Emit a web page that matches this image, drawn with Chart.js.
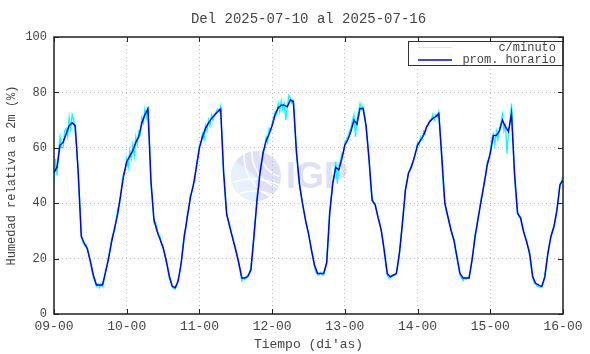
<!DOCTYPE html>
<html>
<head>
<meta charset="utf-8">
<script src="https://cdn.jsdelivr.net/npm/chart.js@4/dist/chart.umd.min.js"></script>
<style>
  html, body { margin: 0; padding: 0; background: #fff; }
  canvas { display: block; }
</style>
</head>
<body>
<canvas id="graf" width="590" height="354"></canvas>
<script>
// etiquetas del eje x (un dia cada 24 h)
var dias = ['09-00', '10-00', '11-00', '12-00', '13-00', '14-00', '15-00', '16-00'];
var horasDia = 24;
var titulo = 'Del 2025-07-10 al 2025-07-16';
var nombres = ['c/minuto', 'prom. horario'];

// promedio horario (una muestra por hora, desde 09-00)
var horario = [
  51, 53, 61, 62, 65, 68, 69, 68, 51, 28, 25.5, 23.5, 19, 14, 10.5, 10.5, 10.5, 15, 20, 26, 31, 36, 43, 50,
  55, 57, 59, 62, 64, 69, 72, 74, 48, 34, 30, 27, 24, 19.5, 14, 10, 9.5, 12, 18.5, 28, 35, 42, 46.5, 53,
  60, 64, 67, 69, 70.6, 71.8, 73, 74, 51, 36, 31.5, 27.3, 23, 18.4, 13, 13, 13.6, 16, 28, 41, 51, 58, 62.5, 65,
  68, 72, 74.5, 75.4, 75.4, 74.8, 77.3, 76.7, 59, 47, 40, 34, 29, 23, 17.6, 14.6, 14.6, 14.6, 18.4, 36.4, 47, 53, 52, 56,
  61, 63, 66, 70, 68.5, 74.2, 74.2, 68, 55.6, 41, 39.4, 34.6, 30.3, 23, 14.6, 13.4, 14, 14.6, 21.8, 32.7, 44.8, 50.8, 53.2, 56.8,
  61, 62.8, 64.6, 67.6, 69.4, 70.6, 71.2, 72.4, 56.8, 40, 35.2, 30.3, 26.7, 20.6, 14.6, 13, 13, 13, 19.6, 28, 34.6, 41, 47.2, 53.8,
  58, 64.4, 64.4, 66, 70, 67.6, 65.8, 72.4, 50.8, 36.4, 34.6, 29.7, 26.1, 21.8, 13.4, 11, 10.4, 9.9, 13.4, 21.8, 27.9, 31.5, 37.5, 46.6,
  48.4
];

// datos c/minuto (leidos cada media hora)
var pasoMinuto = 0.5;
var minuto = [
  47, 56, 50, 59, 64, 60, 60, 66, 67, 64, 71, 67, 72, 70, 66, 60, 50, 40, 29, 26, 25, 25, 24, 21,
  19, 16, 13, 12, 10, 11, 9.5, 11, 10, 12, 16, 17, 21, 23, 27, 29, 30, 34, 38, 39, 42, 48, 51, 52,
  56, 53, 59, 56, 61, 57, 64, 61, 66, 65, 71, 69, 74, 71, 75, 62, 47, 40, 33, 33, 31, 28, 28, 25,
  24, 22, 19, 17, 13, 12, 10, 9, 9, 10, 13, 15, 19, 24, 29, 31, 36, 38, 43, 44, 47, 48, 54, 57,
  61, 62, 65, 63, 68, 66, 70, 68, 72, 70, 72, 73, 74, 73, 75, 62, 50, 42, 36, 34, 32, 29, 27, 25,
  23, 21, 18, 15, 12, 13, 12.5, 13, 14, 14.5, 17, 22, 29, 35, 42, 46, 52, 55, 59, 60, 64, 62, 67, 66,
  69, 71, 73, 72, 76, 73, 77, 74, 76, 70, 75, 79, 78, 76, 77, 68, 58, 52, 47, 43, 40, 37, 34, 31,
  29, 26, 23, 20, 17, 15, 14, 14, 15, 14, 14, 16, 19, 27, 37, 42, 48, 50, 55, 47, 53, 55, 58, 58,
  62, 63, 64, 66, 67, 70, 72, 64, 70, 73, 76, 74, 75, 72, 67, 62, 55, 47, 42, 40, 40, 37, 35, 33,
  30, 27, 22, 18, 14, 13, 13, 14, 14, 14, 15, 18, 22, 27, 33, 39, 45, 48, 51, 52, 54, 55, 57, 59,
  62, 61, 64, 63, 66, 65, 68, 68, 70, 70, 72, 70, 72, 71, 73, 65, 55, 46, 40, 37, 35, 33, 31, 28,
  27, 23, 20, 17, 14, 13, 12, 13, 12.5, 13, 13, 16, 20, 24, 29, 31, 35, 38, 42, 44, 48, 50, 55, 56,
  59, 63, 65, 61, 66, 63, 67, 69, 72, 66, 68, 58, 66, 69, 76, 62, 50, 42, 37, 35, 35, 32, 30, 28,
  26, 24, 21, 17, 13, 11, 11, 10, 10, 9.5, 10, 11, 14, 18, 22, 25, 28, 30, 32, 34, 38, 42, 47, 48,
  50
];

document.addEventListener('DOMContentLoaded', function() {

  var fuente = '"Liberation Mono", "DejaVu Sans Mono", monospace';
  var gris = '#444';

  // logo de fondo, titulo, leyenda, marcas interiores
  var extras = {
    id: 'extras',
    beforeDraw: function(chart) {
      var c = chart.ctx;
      c.save();
      // circulo
      c.fillStyle = '#e0e0f4';
      c.beginPath();
      c.arc(256, 176, 25, 0, Math.PI * 2);
      c.fill();
      c.fillStyle = '#e6f1fd';
      c.beginPath();
      c.arc(256, 176, 25, Math.PI * 0.5, Math.PI * 1.2);
      c.lineTo(256, 176);
      c.fill();
      c.strokeStyle = '#ffffff';
      c.lineWidth = 1.5;
      for (var k = 0; k < 3; k++) {
        c.beginPath();
        c.arc(288, 150 + k * 3, 28 + k * 8, Math.PI * 0.6, Math.PI * 1.05);
        c.stroke();
      }
      c.beginPath();
      c.moveTo(233, 182); c.quadraticCurveTo(256, 175, 279, 185); c.stroke();
      c.beginPath();
      c.moveTo(238, 194); c.quadraticCurveTo(257, 187, 275, 196); c.stroke();
      // letras
      c.fillStyle = '#e0e0f4';
      c.font = 'bold 36px "Liberation Sans", Arial, sans-serif';
      c.textBaseline = 'alphabetic';
      c.fillText('IGP', 286, 188);
      c.restore();
    },
    afterDraw: function(chart) {
      var c = chart.ctx;
      var a = chart.chartArea;
      var sx = chart.scales.x, sy = chart.scales.y;
      c.save();
      // marcas interiores
      c.strokeStyle = '#222';
      c.lineWidth = 1;
      for (var i = 0; i < dias.length; i++) {
        var px = Math.round(sx.getPixelForValue(i * horasDia)) + 0.5;
        c.beginPath();
        c.moveTo(px, a.bottom); c.lineTo(px, a.bottom - 5);
        c.moveTo(px, a.top); c.lineTo(px, a.top + 5);
        c.stroke();
      }
      for (var v = 0; v <= 100; v += 20) {
        var py = Math.round(sy.getPixelForValue(v)) + 0.5;
        c.beginPath();
        c.moveTo(a.left, py); c.lineTo(a.left + 5, py);
        c.moveTo(a.right, py); c.lineTo(a.right - 5, py);
        c.stroke();
      }
      // leyenda
      var lx = 408.5, ly = 41.5, lw = a.right - 408.5, lh = 24;
      c.fillStyle = '#fff';
      c.fillRect(lx, ly, lw, lh);
      c.strokeStyle = '#333';
      c.strokeRect(lx, ly, lw, lh);
      c.lineWidth = 1;
      c.strokeStyle = '#aaffff';
      c.beginPath(); c.moveTo(418, 47.5); c.lineTo(452, 47.5); c.stroke();
      c.strokeStyle = '#0000ff';
      c.lineWidth = 1.5;
      c.beginPath(); c.moveTo(418, 60); c.lineTo(452, 60); c.stroke();
      c.fillStyle = gris;
      c.font = '12px ' + fuente;
      c.textAlign = 'right';
      c.textBaseline = 'middle';
      c.fillText(nombres[0], 556, 48);
      c.fillText(nombres[1], 556, 60);
      // borde
      c.strokeStyle = '#222';
      c.lineWidth = 1.5;
      c.strokeRect(a.left, a.top, a.right - a.left, a.bottom - a.top);
      // titulo
      c.fillStyle = gris;
      c.font = '14px ' + fuente;
      c.textAlign = 'center';
      c.textBaseline = 'middle';
      c.fillText(titulo, (a.left + a.right) / 2, 19);
      c.restore();
    }
  };

  var ctx = document.querySelector('#graf').getContext('2d');
  var chart = new Chart(ctx, {
    type: 'line',
    data: {
      datasets: [{
        label: nombres[1],
        data: horario.map(function(v, i) { return { x: i, y: v }; }),
        borderColor: '#0000ff',
        borderWidth: 1.5,
        pointRadius: 0,
        tension: 0,
        order: 0
      }, {
        label: nombres[0],
        data: minuto.map(function(v, i) { return { x: i * pasoMinuto, y: v }; }),
        borderColor: '#00ffff',
        borderWidth: 1.3,
        pointRadius: 0,
        tension: 0,
        order: 1
      }]
    },
    options: {
      responsive: false,
      animation: false,
      events: [],
      layout: { padding: { top: 37, right: 27, left: 0, bottom: 0 } },
      plugins: {
        legend: { display: false },
        tooltip: { enabled: false },
        title: { display: false }
      },
      scales: {
        x: {
          type: 'linear',
          min: 0,
          max: (dias.length - 1) * horasDia,
          afterFit: function(s) { s.height = 40; },
          ticks: {
            stepSize: horasDia,
            autoSkip: false,
            maxRotation: 0,
            padding: 5,
            color: gris,
            font: { family: fuente, size: 13 },
            callback: function(v) { return dias[v / horasDia]; }
          },
          grid: { color: '#b8b8b8', drawTicks: false, lineWidth: 1 },
          border: { display: false, dash: [1, 3] },
          title: {
            display: true,
            text: "Tiempo (di'as)",
            color: gris,
            font: { family: fuente, size: 13 },
            padding: { top: 0, bottom: 2 }
          }
        },
        y: {
          min: 0,
          max: 100,
          afterFit: function(s) { s.width = 54; },
          ticks: {
            stepSize: 20,
            padding: 7,
            color: gris,
            font: { family: fuente, size: 12 }
          },
          grid: { color: '#b8b8b8', drawTicks: false, lineWidth: 1 },
          border: { display: false, dash: [1, 3] },
          title: {
            display: true,
            text: 'Humedad relativa a 2m (%)',
            color: gris,
            font: { family: fuente, size: 12 },
            padding: { top: 5, bottom: 0 }
          }
        }
      }
    },
    plugins: [extras]
  });
});
</script>
</body>
</html>
